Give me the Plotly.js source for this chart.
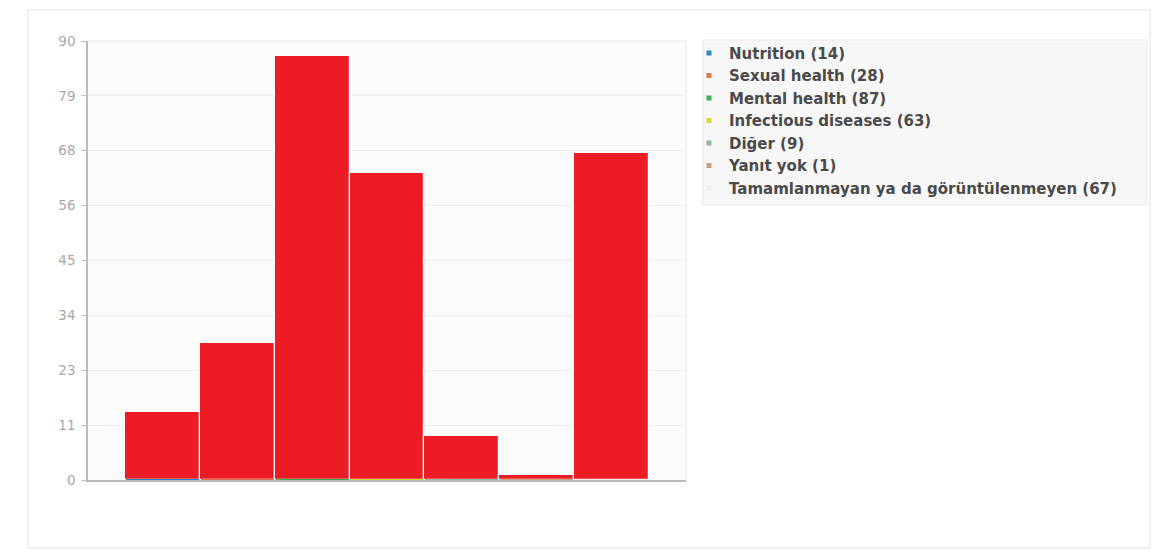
<!DOCTYPE html>
<html>
<head>
<meta charset="utf-8">
<script src="https://cdn.plot.ly/plotly-3.0.1.min.js"></script>
<style>
  html, body { margin: 0; padding: 0; background: #ffffff; }
  #chart { width: 1159px; height: 552px; }
</style>
</head>
<body>
<div id="chart"></div>
<script>
const categories = ["Nutrition", "Sexual health", "Mental health", "Infectious diseases", "Diğer", "Yanıt yok", "Tamamlanmayan ya da görüntülenmeyen"];
const counts = [14, 28, 87, 63, 9, 1, 67];
const seriesColors = ["#2f86c2", "#e0744a", "#35b54a", "#d6d833", "#97b897", "#c9a07a", "#ececec"];
const tickValues = [0, 11.25, 22.5, 33.75, 45, 56.25, 67.5, 78.75, 90];
const tickLabels = ["0", "11", "23", "34", "45", "56", "68", "79", "90"];

const traces = [];
traces.push({
  type: "bar",
  x: categories,
  y: counts,
  marker: { color: "#ed1c24", line: { color: "#ffffff", width: 1.2 } },
  showlegend: false,
  hoverinfo: "x+y"
});
categories.forEach((c, i) => {
  traces.push({
    type: "scatter",
    mode: "markers",
    x: [null],
    y: [null],
    name: c + " (" + counts[i] + ")",
    marker: { color: seriesColors[i], size: 5, symbol: "square" },
    showlegend: true
  });
});

// coloured baseline strip under each category's bar
const baseShapes = categories.map((c, i) => ({
  type: "line", xref: "x", yref: "y", layer: "above",
  x0: i - 0.49, x1: i + 0.49, y0: 0, y1: 0,
  line: { color: seriesColors[i], width: 2 }
}));

const layout = {
  width: 1159,
  height: 552,
  margin: { l: 88, r: 473, t: 41, b: 72 },
  paper_bgcolor: "#ffffff",
  plot_bgcolor: "#fbfbfb",
  font: { family: "DejaVu Sans, sans-serif", size: 12, color: "#333333" },
  bargap: 0,
  xaxis: {
    type: "category",
    range: [-1, 7],
    showticklabels: false,
    showgrid: false,
    zeroline: false,
    showline: true,
    linecolor: "#bbbbbb",
    linewidth: 1.5,
    ticks: "",
    mirror: false
  },
  yaxis: {
    range: [0, 90],
    tickmode: "array",
    tickvals: tickValues,
    ticktext: tickLabels,
    tickfont: { family: "DejaVu Sans, sans-serif", size: 13.5, color: "#a8a8a8" },
    ticks: "outside",
    ticklen: 5,
    tickcolor: "#c4c4c4",
    ticklabelstandoff: 3,
    showline: true,
    linecolor: "#bbbbbb",
    linewidth: 1.5,
    showgrid: true,
    gridcolor: "#eeeeee",
    zeroline: false
  },
  legend: {
    x: 1.005,
    xanchor: "left",
    y: 1.0095,
    yanchor: "top",
    bgcolor: "rgba(0,0,0,0)",
    borderwidth: 0,
    font: { family: "DejaVu Sans, sans-serif", size: 15, color: "#4a4a4a", weight: "bold" },
    itemwidth: 30
  },
  shapes: [
    {
      type: "rect", xref: "paper", yref: "paper", layer: "below",
      x0: -0.1003, x1: 1.776, y0: -0.1549, y1: 1.0706,
      line: { color: "#ececec", width: 1.5 }, fillcolor: "rgba(0,0,0,0)"
    },
    {
      type: "rect", xref: "paper", yref: "paper", layer: "below",
      x0: 1.0284, x1: 1.7709, y0: 0.6264, y1: 1.0023,
      line: { color: "#e8e8e8", width: 1 }, fillcolor: "#f7f7f7"
    },
    {
      type: "line", xref: "paper", yref: "paper", layer: "above",
      x0: 0, x1: 1, y0: 1, y1: 1,
      line: { color: "#e4e4e4", width: 1 }
    },
    {
      type: "line", xref: "paper", yref: "paper", layer: "above",
      x0: 1, x1: 1, y0: 0, y1: 1,
      line: { color: "#e4e4e4", width: 1 }
    }
  ].concat(baseShapes)
};

Plotly.newPlot("chart", traces, layout, { displayModeBar: false, responsive: false });
</script>
</body>
</html>
